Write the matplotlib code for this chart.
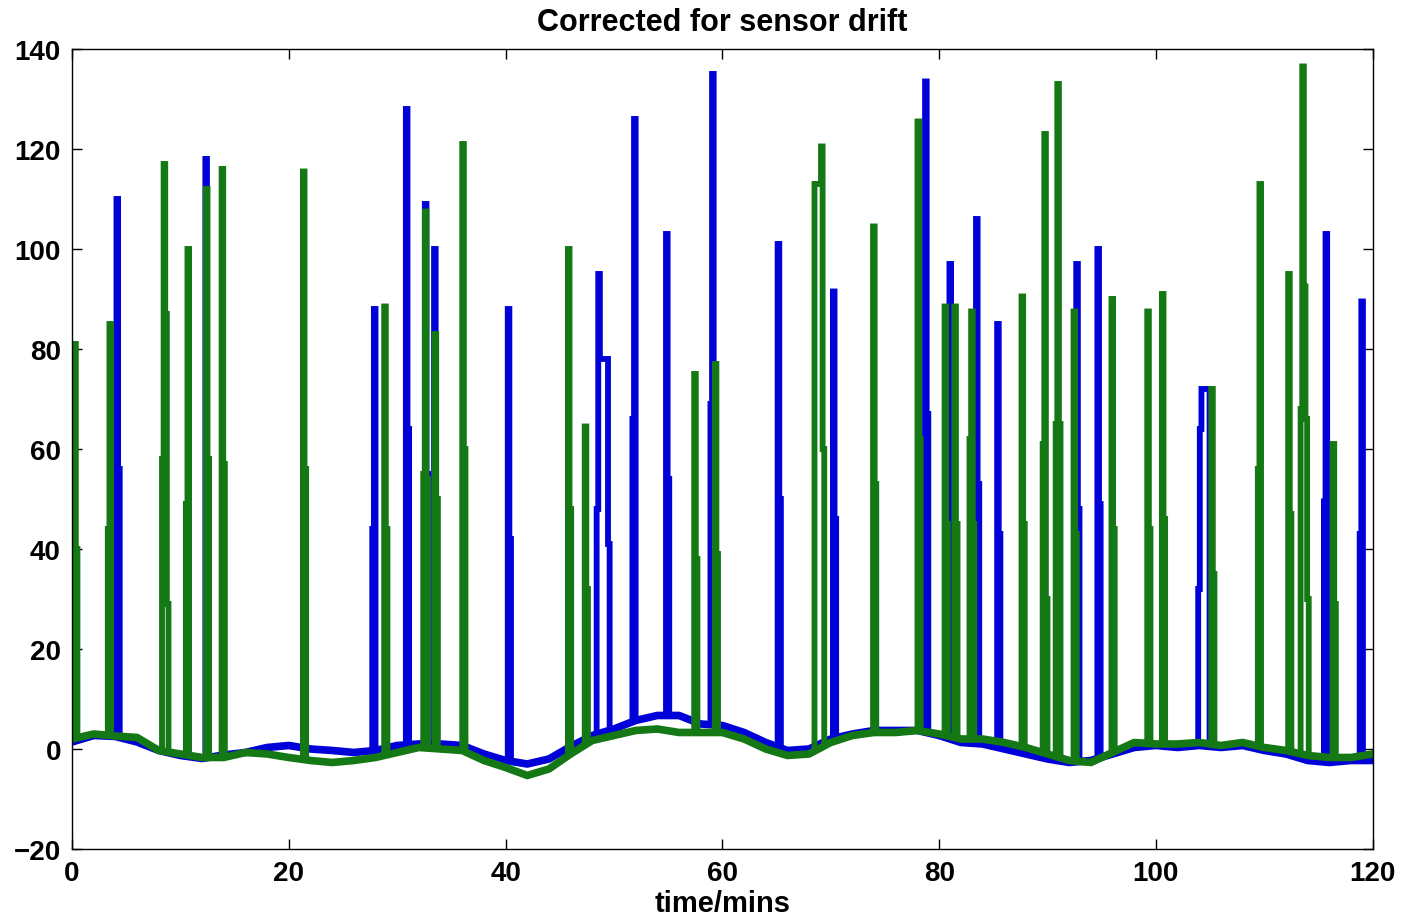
import numpy as np
import matplotlib
matplotlib.use('Agg')
import matplotlib.pyplot as plt

# slow baseline drift (value every 2 minutes)
base_t = list(range(0, 121, 2))
blue_base = [1.4, 2.7, 2.5, 1.4, -0.3, -1.3, -1.9, -1.2, -0.7, 0.3, 0.7, 0, -0.3, -0.7, -0.3, 0.7,
             1, 1, 0.7, -1, -2.3, -3, -2, 0.5, 2.7, 4, 5.7, 6.7, 6.7, 5, 4.7, 3.3, 1.3, -0.3, 0, 2,
             3, 3.7, 3.7, 3.7, 2.7, 1.3, 1, 0, -1, -2, -2.7, -2.3, -1, 0.3, 0.7, 0.3, 0.7, 0.3, 0.7,
             -0.3, -1, -2.3, -2.7, -2.3, -2.3]
green_base = [2, 3, 2.6, 2.3, -0.3, -1, -1.7, -1.7, -0.7, -1, -1.7, -2.3, -2.7, -2.3, -1.7, -0.7,
              0.3, 0, -0.3, -2.3, -3.7, -5.3, -4, -1, 1.7, 2.7, 3.7, 4, 3.3, 3.3, 3.3, 2, 0, -1.3,
              -1, 1.3, 2.7, 3.3, 3.3, 3.7, 3, 2, 2, 1.3, 0.3, -1, -2.3, -2.7, -0.7, 1.3, 1, 1, 1.3,
              0.7, 1.3, 0.3, -0.3, -1.3, -1.7, -1.7, -1]

# spikes: start time (mins) and successive sample values
blue_start = [4.1, 12.3, 27.7, 30.8, 32.55, 33.4, 40.2, 48.4, 51.7, 54.8, 58.9, 65.1, 70.2,
              78.7, 80.95, 83.4, 85.35, 92.65, 94.6, 103.9, 115.5, 118.8]
blue_vals = [[110, 56], [118, 58], [44, 88], [128, 64], [109, 55], [100, 50], [88, 42],
             [48, 95, 78, 78, 78, 78, 78, 41], [66, 126], [103, 54], [69, 135], [101, 50],
             [91.5, 46], [133.5, 67], [97, 45], [106, 53], [85, 43], [97, 48], [100, 49],
             [32, 64, 72, 72, 72, 72, 72], [49.5, 103], [43, 89.5]]

green_start = [0.2, 3.3, 8.3, 10.5, 12.35, 13.8, 21.3, 28.8, 32.4, 33.45, 36.0, 45.75, 47.3,
               57.4, 59.3, 68.5, 73.9, 78.0, 80.5, 81.4, 82.8, 87.6, 89.55, 90.75, 92.4, 95.9,
               99.2, 100.55, 105.1, 109.4, 112.2, 113.35, 116.3]
green_vals = [[81, 40], [44, 85], [58, 117, 87, 29], [49, 100], [112, 58], [116, 57],
              [115.5, 56], [88.5, 44], [55, 107.5, 54], [83, 50], [121, 60], [100, 48],
              [64.5, 32], [75, 38], [77, 39], [113, 113, 113, 113, 120.5, 60], [104.5, 53],
              [125.5, 62], [88.5, 45], [88.5, 45], [62, 87.5, 45], [90.5, 45], [61, 123, 30],
              [65, 133, 65], [87.5, 43], [90, 44], [87.5, 44], [91, 46], [72, 35], [56, 113],
              [95, 47], [68, 136.5, 92.5, 66, 30], [61, 29]]

dt = 0.15


def build(bt, bv, starts, vals):
    # baseline polyline with each spike drawn as a sample-and-hold staircase
    bt = np.asarray(bt, float)
    bv = np.asarray(bv, float)
    keep = np.ones(len(bt), bool)
    pts = []
    for t0, v in zip(starts, vals):
        t1 = t0 + len(v) * dt
        keep &= ~((bt >= t0) & (bt <= t1))
        pts.append((t0, np.interp(t0, bt, bv)))
        for i, y in enumerate(v):
            pts.append((t0 + i * dt, y))
            pts.append((t0 + (i + 1) * dt, y))
        pts.append((t1, np.interp(t1, bt, bv)))
    pts += list(zip(bt[keep], bv[keep]))
    pts.sort(key=lambda p: p[0])   # stable sort keeps spike order
    return [p[0] for p in pts], [p[1] for p in pts]


plt.rcParams['font.family'] = ['Liberation Sans', 'DejaVu Sans']
plt.rcParams['font.weight'] = 'bold'

fig = plt.figure(figsize=(14.04, 9.2), dpi=100)
ax = fig.add_axes([0.0513, 0.0761, 0.9264, 0.8696])

for bv, st, vl, c in [(blue_base, blue_start, blue_vals, (0, 0, 0.85)),
                      (green_base, green_start, green_vals, (0.08, 0.47, 0.08))]:
    # noisy baseline reads as a thicker band
    ax.plot(base_t, bv, color=c, lw=5.5)
    x, y = build(base_t, bv, st, vl)
    ax.plot(x, y, color=c, lw=4.2, solid_joinstyle='miter', solid_capstyle='butt')

ax.set_xlim(0, 120)
ax.set_ylim(-20, 140)
ax.set_xticks(range(0, 121, 20))
ax.set_yticks(range(-20, 141, 20))
ax.tick_params(direction='in', length=7, width=1, top=True, right=True,
               labelsize=20, pad=8)
for s in ax.spines.values():
    s.set_linewidth(1)
ax.set_title('Corrected for sensor drift', fontsize=22, fontweight='bold', pad=14)
ax.set_xlabel('time/mins', fontsize=21, fontweight='bold', labelpad=2)

fig.savefig('out.png', dpi=100)
